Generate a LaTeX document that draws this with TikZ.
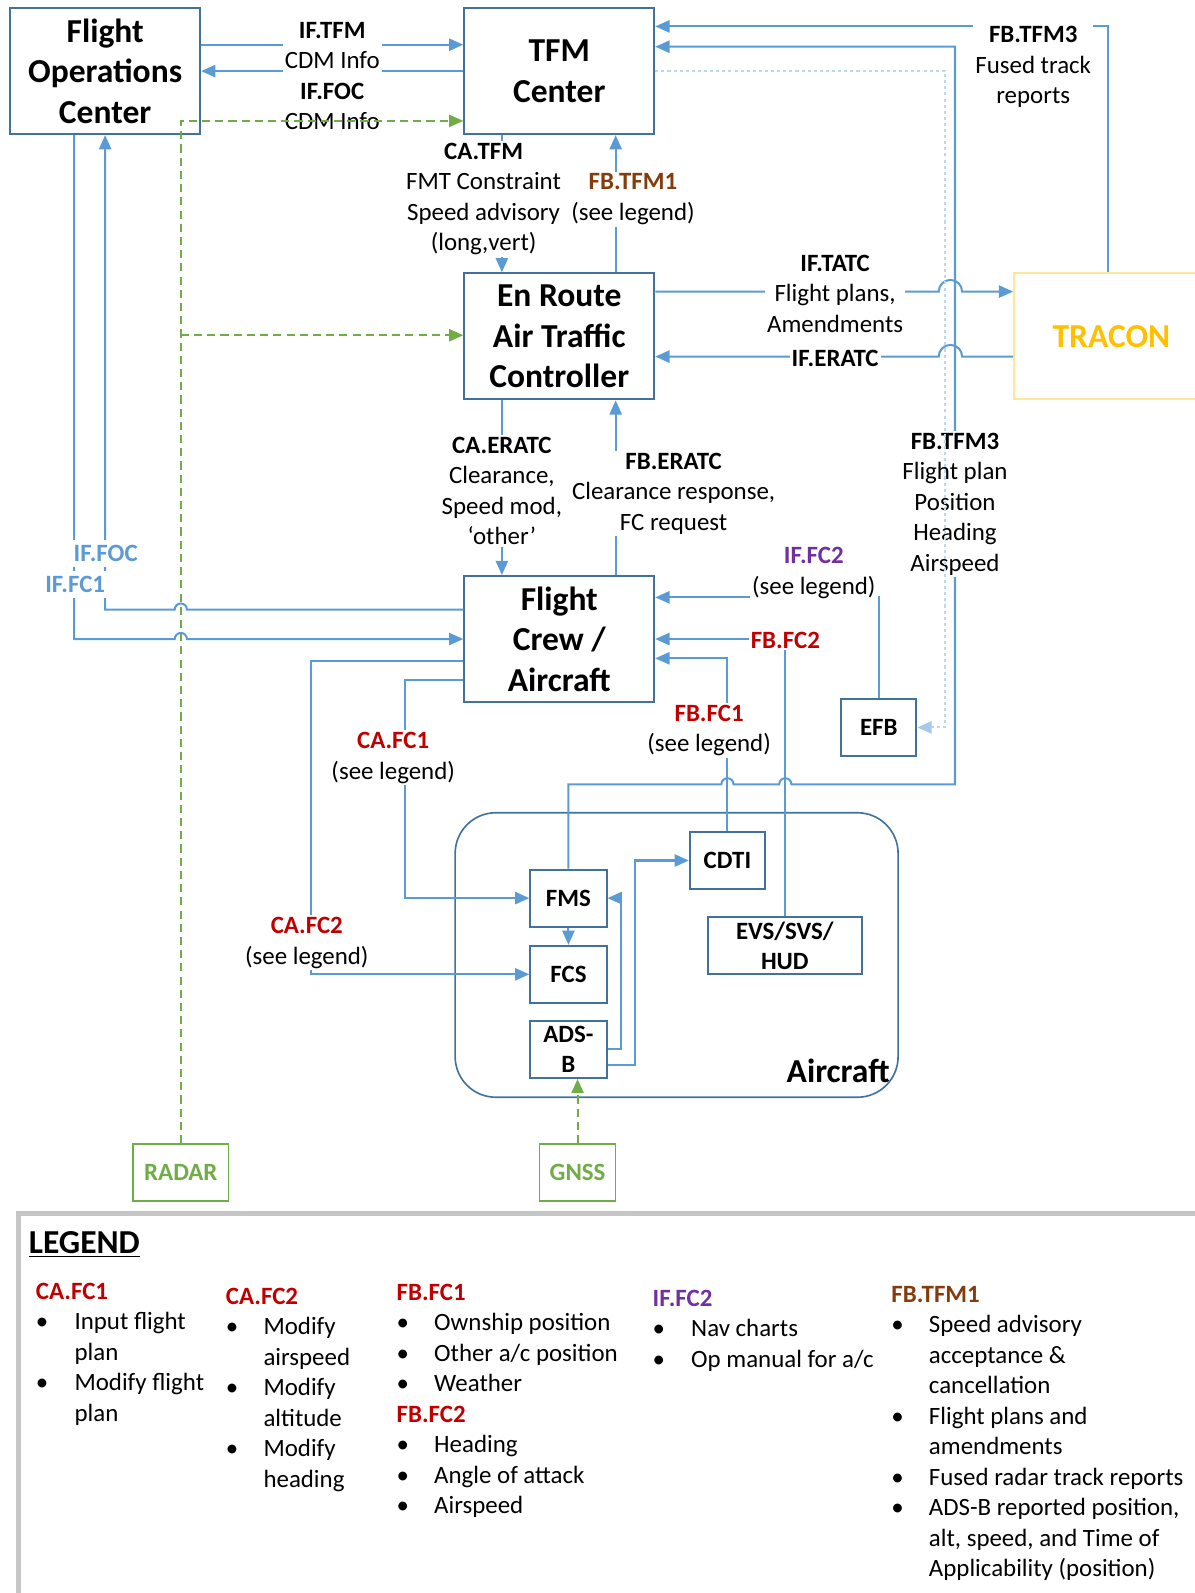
\documentclass[tikz,border=0pt]{standalone}
\usepackage{fontspec}
\setmainfont{Carlito}
\usetikzlibrary{arrows.meta}

\definecolor{boxblue}{HTML}{41719C}
\definecolor{lineblue}{HTML}{5B9BD5}
\definecolor{dotblue}{HTML}{BDD7EE}
\definecolor{dotarrow}{HTML}{A9C8EA}
\definecolor{sensgreen}{HTML}{70AD47}
\definecolor{fcred}{HTML}{C00000}
\definecolor{fcpurple}{HTML}{7030A0}
\definecolor{tfmbrown}{HTML}{843C0C}
\definecolor{traconline}{HTML}{FFE699}
\definecolor{tracontext}{HTML}{FFC000}
\definecolor{legendgray}{HTML}{C6C6C6}

\newcommand{\bigfont}{\fontsize{16.5}{20}\selectfont\bfseries}
\newcommand{\bodyfont}{\fontsize{12.25}{15}\selectfont}
\newcommand{\lghead}[2]{\textcolor{#1}{\textbf{#2}}}

\begin{document}
\begin{tikzpicture}[x=0.5pt,y=-0.5pt,
  unit/.style={draw=boxblue,line width=1pt,fill=white,align=center,font=\bigfont,
    inner sep=0pt,minimum width=93.5pt,minimum height=62pt},
  small/.style={draw=boxblue,line width=1pt,fill=white,align=center,font=\bodyfont\bfseries,
    inner sep=0pt,minimum height=28pt},
  sensor/.style={draw=sensgreen,line width=0.8pt,fill=white,text=sensgreen,
    font=\bodyfont\bfseries,inner sep=0pt,minimum height=28pt},
  tip/.style={-{Triangle[length=7pt,width=6pt]}},
  conn/.style={draw=lineblue,line width=1pt,tip},
  gdash/.style={draw=sensgreen,line width=1pt,dash pattern=on 4pt off 2.5pt,tip},
  dotline/.style={draw=dotblue,line width=1pt,dash pattern=on 1.5pt off 1.5pt,
    -{Triangle[length=7pt,width=6pt,color=dotarrow]}},
  lbl/.style={fill=white,align=center,font=\bodyfont,inner sep=1pt},
  blbl/.style={fill=white,align=center,font=\bodyfont\bfseries,inner sep=1pt},
  lgcol/.style={anchor=base west,inner sep=0pt,font=\bodyfont}
]
\useasboundingbox (0,0) rectangle (1176,1568);

% aircraft enclosure
\node[draw=boxblue,line width=0.8pt,rounded corners=20pt,minimum width=218pt,
  minimum height=140pt,inner sep=0pt] (acft) at (666,940) {};
\node[font=\bigfont,inner sep=0pt] (acftlbl) at (825,1054) {Aircraft};

% main units
\node[unit] (FOC) at (103.5,70) {Flight\\Operations\\Center};
\node[unit] (TFM) at (550.5,70) {TFM\\Center};
\node[unit] (ERATC) at (550.5,331) {En Route\\Air Traffic\\Controller};
\node[unit] (FC) at (550.5,629) {Flight\\Crew /\\Aircraft};
\node[draw=traconline,line width=0.8pt,fill=white,minimum width=96pt,minimum height=62pt,
  inner sep=0pt,text=tracontext,font=\bigfont] (TRACON) at (1094,331) {TRACON};

% equipment
\node[small,minimum width=37pt] (EFB) at (865,716) {EFB};
\node[small,minimum width=37pt] (CDTI) at (716,847) {CDTI};
\node[small,minimum width=37.5pt] (FMS) at (559.5,884) {FMS};
\node[small,minimum width=37.5pt] (FCS) at (559.5,959) {FCS};
\node[small,minimum width=37.5pt] (ADSB) at (559.5,1033) {ADS-\\B};
\node[small,minimum width=75.5pt] (EVS) at (772.5,931) {EVS/SVS/\\HUD};
\node[sensor,minimum width=47pt] (RADAR) at (178,1154) {RADAR};
\node[sensor,minimum width=37.5pt] (GNSS) at (568.5,1154) {GNSS};

% information flows
\draw[conn] (FOC.east |- 0,44) -- (TFM.west |- 0,44);
\draw[conn] (TFM.west |- 0,70) -- (FOC.east |- 0,70);
\draw[conn] (TFM.south -| 494,0) -- (ERATC.north -| 494,0);
\draw[conn] (ERATC.north -| 606,0) -- (TFM.south -| 606,0);
\draw[conn] (TRACON.north -| 1091,0) -- (1091,26) -- (TFM.east |- 0,26);
\draw[conn] (FMS.north) |- (710,772) arc[start angle=180,end angle=0,radius=3pt]
  -- (767,772) arc[start angle=180,end angle=0,radius=3pt]
  -- (940,772) -- (940,46) -- (TFM.east |- 0,46);
\draw[conn] (ERATC.east |- 0,287) -- (924,287) arc[start angle=180,end angle=0,radius=5.75pt]
  -- (TRACON.west |- 0,287);
\draw[conn] (TRACON.west |- 0,351) -- (947,351) arc[start angle=0,end angle=180,radius=5.75pt]
  -- (ERATC.east |- 0,351);
\draw[conn] (ERATC.south -| 494,0) -- (FC.north -| 494,0);
\draw[conn] (FC.north -| 606,0) -- (ERATC.south -| 606,0);
\draw[conn] (FC.west |- 0,600) -- (184,600) arc[start angle=0,end angle=180,radius=3pt]
  -- (FOC.south |- 0,600) -- (FOC.south);
\draw[conn] (FOC.south -| 73,0) -- (73,629) -- (172,629)
  arc[start angle=180,end angle=0,radius=3pt] -- (FC.west);
\draw[conn] (EFB.north) |- (FC.east |- 0,588);
\draw[conn] (EVS.north) |- (FC.east);
\draw[conn] (CDTI.north) |- (FC.east |- 0,648);
\draw[conn] (FC.west |- 0,669) -| (399,884) -- (FMS.west);
\draw[conn] (FC.west |- 0,651) -| (306,959) -- (FCS.west);
\draw[conn] (FMS.south) -- (FCS.north);
\draw[conn] (ADSB.east) -| (611,884) -- (FMS.east);
\draw[conn] (ADSB.east |- 0,1048) -| (625,847) -- (CDTI.west);

% flow labels
\node[lbl] (lbTop) at (327,75) {\textbf{IF.TFM}\\CDM Info\\\textbf{IF.FOC}\\CDM Info};
\node[blbl,text=lineblue,inner sep=2.5pt] (lbFOC) at (104,545) {IF.FOC};
\node[blbl,text=lineblue,inner sep=2.5pt] (lbFC1) at (74,575) {IF.FC1};
\node[lbl] (lbCATFM) at (476,196) {\textbf{CA.TFM}\\FMT Constraint\\Speed advisory\\(long,vert)};
\node[lbl] (lbFBTFM1) at (623,196) {\lghead{tfmbrown}{FB.TFM1}\\(see legend)};
\node[lbl] (lbTFM3a) at (1017,66) {\textbf{FB.TFM3}\\Fused track\\reports};
\node[lbl] (lbTATC) at (822,289) {\textbf{IF.TATC}\\Flight plans,\\Amendments};
\node[blbl] (lbERATC) at (822,353) {IF.ERATC};
\node[lbl] (lbFBERATC) at (663,486) {\textbf{FB.ERATC}\\Clearance response,\\FC request};
\node[lbl] (lbCAERATC) at (494,483) {\textbf{CA.ERATC}\\Clearance,\\Speed mod,\\‘other’};
\node[lbl] (lbTFM3b) at (940,496) {\textbf{FB.TFM3}\\Flight plan\\Position\\Heading\\Airspeed};
\node[lbl] (lbIFFC2) at (801,564) {\lghead{fcpurple}{IF.FC2}\\(see legend)};
\node[blbl,text=fcred] (lbFBFC2) at (773,630) {FB.FC2};
\node[lbl] (lbFBFC1) at (698,719) {\lghead{fcred}{FB.FC1}\\(see legend)};
\node[lbl] (lbCAFC1) at (387,746) {\lghead{fcred}{CA.FC1}\\(see legend)};
\node[lbl] (lbCAFC2) at (302,928) {\lghead{fcred}{CA.FC2}\\(see legend)};

% surveillance feeds and track data
\draw[dotline] (TFM.east |- 0,70) -- (930,70) -- (930,716) -- (EFB.east);
\draw[gdash] (RADAR.north) -- (178,119) -- (TFM.west |- 0,119);
\draw[gdash] (178,330) -- (ERATC.west |- 0,330);
\draw[gdash] (GNSS.north) -- (GNSS.north |- ADSB.south);

% legend panel
\draw[legendgray,line width=2.5pt] (18,1600) -- (18,1194) -- (1200,1194);
\node[anchor=base west,inner sep=0pt,font=\bigfont] (lgTitle) at (28,1234) {\underline{LEGEND}};
\node[lgcol] (lgA) at (35,1279) {\begin{tabular}[t]{@{}p{19pt}@{}l@{}}
\multicolumn{2}{@{}l@{}}{\lghead{fcred}{CA.FC1}}\\
\textbullet & Input flight\\
 & plan\\
\textbullet & Modify flight\\
 & plan
\end{tabular}};
\node[lgcol] (lgB) at (222,1284) {\begin{tabular}[t]{@{}p{18.5pt}@{}l@{}}
\multicolumn{2}{@{}l@{}}{\lghead{fcred}{CA.FC2}}\\
\textbullet & Modify\\
 & airspeed\\
\textbullet & Modify\\
 & altitude\\
\textbullet & Modify\\
 & heading
\end{tabular}};
\node[lgcol] (lgC) at (390,1280) {\begin{tabular}[t]{@{}p{18.5pt}@{}l@{}}
\multicolumn{2}{@{}l@{}}{\lghead{fcred}{FB.FC1}}\\
\textbullet & Ownship position\\
\textbullet & Other a/c position\\
\textbullet & Weather\\
\multicolumn{2}{@{}l@{}}{\lghead{fcred}{FB.FC2}}\\
\textbullet & Heading\\
\textbullet & Angle of attack\\
\textbullet & Airspeed
\end{tabular}};
\node[lgcol] (lgD) at (642,1286) {\begin{tabular}[t]{@{}p{19pt}@{}l@{}}
\multicolumn{2}{@{}l@{}}{\lghead{fcpurple}{IF.FC2}}\\
\textbullet & Nav charts\\
\textbullet & Op manual for a/c
\end{tabular}};
\node[lgcol] (lgE) at (877,1282) {\begin{tabular}[t]{@{}p{18.5pt}@{}l@{}}
\multicolumn{2}{@{}l@{}}{\lghead{tfmbrown}{FB.TFM1}}\\
\textbullet & Speed advisory\\
 & acceptance \&\\
 & cancellation\\
\textbullet & Flight plans and\\
 & amendments\\
\textbullet & Fused radar track reports\\
\textbullet & ADS-B reported position,\\
 & alt, speed, and Time of\\
 & Applicability (position)
\end{tabular}};
\end{tikzpicture}
\end{document}
